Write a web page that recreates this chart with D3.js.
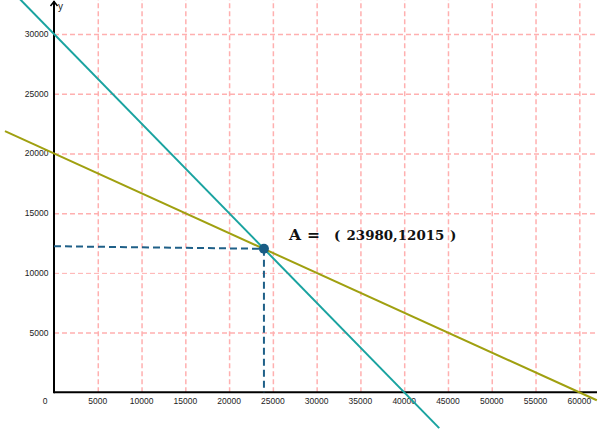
<!DOCTYPE html>
<html>
<head>
<meta charset="utf-8">
<script src="https://cdn.jsdelivr.net/npm/d3@7"></script>
<style>
  html, body { margin: 0; padding: 0; background: #fff; }
  .tick-label { font-family: "Liberation Sans", Arial, sans-serif; font-size: 8.5px; fill: #222; }
</style>
</head>
<body>
<svg id="chart"></svg>
<script>
// Data
const xTicks = [5000, 10000, 15000, 20000, 25000, 30000, 35000, 40000, 45000, 50000, 55000, 60000];
const yTicks = [5000, 10000, 15000, 20000, 25000, 30000];
const tealLine = [{ x: -4000, y: 33000 }, { x: 44000, y: -3000 }];
const oliveLine = [{ x: -5600, y: 21867 }, { x: 62000, y: -667 }];
const pointA = { x: 23980, y: 12015 };
const guideStartY = 12230;
const labelParts = [
    { text: "A", dx: 0, size: 15.5 },
    { text: "=", dx: 18, size: 15.5 },
    { text: "(", dx: 45, size: 13.4 },
    { text: "23980,12015", dx: 57.5, size: 13.4 },
    { text: ")", dx: 161, size: 13.4 }
];

// Configuration
const W = 602, H = 429;
const origin = { x: 54, y: 392.3 };

const svg = d3.select("#chart").attr("width", W).attr("height", H);

const xScale = d3.scaleLinear().domain([0, 60000]).range([origin.x, 579.3]);
const yScale = d3.scaleLinear().domain([0, 30000]).range([origin.y, 34]);

// Gridlines
const grid = svg.append("g").attr("class", "grid");
grid.append("g")
    .attr("transform", `translate(0,${origin.y})`)
    .call(d3.axisBottom(xScale).tickValues(xTicks).tickSize(-origin.y).tickFormat(""))
    .call(g => g.select(".domain").remove())
    .selectAll("line")
    .attr("stroke", "#ffb0b0")
    .attr("stroke-width", 1.5)
    .attr("stroke-dasharray", "5,3");

grid.append("g")
    .attr("transform", `translate(${origin.x},0)`)
    .call(d3.axisRight(yScale).tickValues(yTicks).tickSize(595 - origin.x).tickFormat(""))
    .call(g => g.select(".domain").remove())
    .selectAll("line")
    .attr("stroke", "#ffb0b0")
    .attr("stroke-width", d => d === 10000 ? 1 : 1.5)
    .attr("stroke-dasharray", "5,3");

// Axes
svg.append("line")
    .attr("x1", origin.x).attr("x2", 597)
    .attr("y1", origin.y).attr("y2", origin.y)
    .attr("stroke", "#000").attr("stroke-width", 2);
svg.append("line")
    .attr("x1", origin.x).attr("x2", origin.x)
    .attr("y1", origin.y + 1).attr("y2", 1)
    .attr("stroke", "#000").attr("stroke-width", 2);
svg.append("path")
    .attr("d", `M${origin.x - 3.5},${6} L${origin.x},${1.5} L${origin.x + 3.5},${6}`)
    .attr("fill", "none").attr("stroke", "#000").attr("stroke-width", 1.5);
svg.append("text")
    .attr("x", 58).attr("y", 10)
    .attr("font-family", "Liberation Sans, Arial, sans-serif")
    .attr("font-size", 10).attr("fill", "#222")
    .text("y");

// Tick labels
svg.append("g").selectAll("text")
    .data([0].concat(xTicks))
    .join("text")
    .attr("class", "tick-label")
    .attr("x", d => d === 0 ? 45 : xScale(d))
    .attr("y", 404)
    .attr("text-anchor", "middle")
    .text(d => d);

svg.append("g").selectAll("text")
    .data(yTicks)
    .join("text")
    .attr("class", "tick-label")
    .attr("x", 48.5)
    .attr("y", d => yScale(d) + 3)
    .attr("text-anchor", "end")
    .text(d => d);

// Lines
const line = d3.line().x(d => xScale(d.x)).y(d => yScale(d.y));
svg.append("path").datum(tealLine)
    .attr("d", line).attr("fill", "none")
    .attr("stroke", "#1aa3a0").attr("stroke-width", 2);
svg.append("path").datum(oliveLine)
    .attr("d", line).attr("fill", "none")
    .attr("stroke", "#a0a010").attr("stroke-width", 2);

// Projection lines from point A
const dash = svg.append("g")
    .attr("stroke", "#1f6088").attr("stroke-width", 2)
    .attr("stroke-dasharray", "7,4");
dash.append("line")
    .attr("x1", xScale(0)).attr("y1", yScale(guideStartY))
    .attr("x2", xScale(pointA.x)).attr("y2", yScale(pointA.y));
dash.append("line")
    .attr("x1", xScale(pointA.x)).attr("y1", yScale(pointA.y))
    .attr("x2", xScale(pointA.x)).attr("y2", yScale(0));

svg.append("circle")
    .attr("cx", xScale(pointA.x)).attr("cy", yScale(pointA.y))
    .attr("r", 5).attr("fill", "#195d85");

// Point label
const labelX = 289;
svg.append("text")
    .attr("y", 239.5)
    .attr("font-family", "DejaVu Serif, serif")
    .attr("font-weight", "bold")
    .attr("fill", "#111")
    .selectAll("tspan")
    .data(labelParts)
    .join("tspan")
    .attr("x", d => labelX + d.dx)
    .attr("font-size", d => d.size)
    .text(d => d.text);
</script>
</body>
</html>
